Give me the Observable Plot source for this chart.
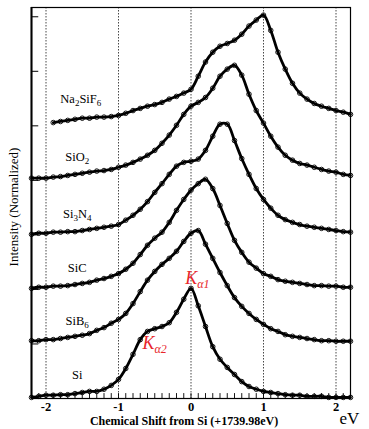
<!DOCTYPE html>
<html><head><meta charset="utf-8">
<script src="https://cdn.jsdelivr.net/npm/d3@7"></script>
<script src="https://cdn.jsdelivr.net/npm/@observablehq/plot@0.6"></script>
<style>
html,body{margin:0;padding:0;background:#fff;}
#chart svg{display:block;}
</style>
</head><body><div id="chart"></div>
<script>
// Chemical shift (eV) sample positions
const energy = [-2.2,-2.1,-2.0,-1.9,-1.8,-1.7,-1.6,-1.5,-1.4,-1.3,-1.2,-1.1,-1.0,-0.9,-0.8,-0.7,-0.6,-0.5,-0.4,-0.3,-0.2,-0.1,0,0.1,0.2,0.3,0.4,0.5,0.6,0.7,0.8,0.9,1.0,1.1,1.2,1.3,1.4,1.5,1.6,1.7,1.8,1.9,2.0,2.1,2.2];

// Stacked normalized intensities
const si = [0.02,0.04,0.06,0.06,0.07,0.07,0.09,0.11,0.13,0.13, 0.17,0.24,0.35,0.55,0.81,1.08,1.23,1.28,1.32,1.39, 1.58,1.82,2.02,1.70,1.32,0.95,0.72,0.57,0.44,0.31, 0.22,0.17,0.13,0.11,0.09,0.07,0.06,0.06,0.04,0.04, 0.04,0.02,0.02,0.02,0.02];
const sib6 = [1.06,1.06,1.08,1.08,1.10,1.12,1.14,1.16,1.19,1.25, 1.30,1.38,1.45,1.56,1.74,1.96,2.17,2.33,2.46,2.57, 2.70,2.88,3.03,3.08,2.83,2.57,2.31,2.07,1.85,1.69, 1.56,1.45,1.36,1.28,1.23,1.17,1.14,1.12,1.10,1.08, 1.06,1.06,1.05,1.05,1.05];
const sic = [2.02,2.04,2.04,2.06,2.06,2.07,2.09,2.11,2.13,2.17, 2.20,2.24,2.29,2.37,2.48,2.64,2.81,2.94,3.05,3.23, 3.45,3.65,3.82,3.94,4.02,3.85,3.54,3.21,2.90,2.68, 2.50,2.39,2.29,2.24,2.18,2.15,2.13,2.11,2.09,2.07, 2.07,2.06,2.06,2.04,2.04];
const si3n4 = [3.01,3.03,3.03,3.05,3.05,3.06,3.06,3.08,3.10,3.12, 3.14,3.16,3.19,3.27,3.36,3.47,3.61,3.78,3.94,4.11, 4.26,4.33,4.35,4.39,4.55,4.81,5.03,5.03,4.73,4.40, 4.11,3.85,3.65,3.49,3.36,3.28,3.23,3.19,3.16,3.14, 3.12,3.10,3.08,3.06,3.05];
const sio2 = [4.04,4.04,4.04,4.06,4.07,4.09,4.11,4.13,4.15,4.17, 4.18,4.20,4.24,4.28,4.33,4.39,4.46,4.55,4.68,4.83, 5.01,5.21,5.36,5.43,5.52,5.69,5.91,6.04,6.11,5.93, 5.58,5.28,5.05,4.81,4.61,4.46,4.37,4.31,4.28,4.24, 4.20,4.17,4.15,4.11,4.09];
// Na2SiF6 starts at -1.9 eV
const na2sif6 = [5.06,5.08,5.10,5.12,5.14,5.14,5.16,5.16,5.17,5.19, 5.23,5.28,5.32,5.36,5.39,5.43,5.49,5.54,5.60,5.67, 5.91,6.17,6.35,6.46,6.51,6.57,6.68,6.83,6.94,7.03, 6.75,6.35,6.04,5.78,5.60,5.49,5.41,5.36,5.32,5.28, 5.25,5.21];

const seriesNames = ["Si","SiB6","SiC","Si3N4","SiO2","Na2SiF6"];
const seriesStart = [-2.2,-2.2,-2.2,-2.2,-2.2,-1.9];
const seriesValues = [si, sib6, sic, si3n4, sio2, na2sif6];

// Label anchors (data coordinates)
const labelX = [-1.57,-1.57,-1.57,-1.57,-1.57,-1.52];
const labelY = [0.44,1.43,2.39,3.38,4.42,5.49];

const peakLabels = ["K\u03b11","K\u03b12"];
const peakX = [-0.08,-0.67];
const peakY = [2.20,1.01];

const xTicks = [-2,-1,0,1,2];
const yTicks = [1,2,3,4,5,6,7];
const xLabel = "Chemical Shift from Si (+1739.98eV)";
const yLabel = "Intensity (Normalized)";
const unitLabel = "eV";

const rows = [];
seriesNames.forEach((name, k) => {
  const i0 = energy.indexOf(seriesStart[k]);
  seriesValues[k].forEach((v, i) => rows.push({x: energy[i0 + i], y: v, s: name}));
});
const labels = seriesNames.map((n, i) => ({name: n, x: labelX[i], y: labelY[i]}));
const peaks = peakLabels.map((n, i) => ({name: n, x: peakX[i], y: peakY[i]}));

const minor = d3.range(-22, 23).map(d => d / 10);
const font = "Liberation Serif";

const chart = Plot.plot({
  width: 369,
  height: 429,
  marginLeft: 31,
  marginRight: 19,
  marginTop: 7,
  marginBottom: 31,
  style: {fontFamily: font, fontSize: "12px", background: "#fff", color: "#000"},
  x: {domain: [-2.2, 2.2]},
  y: {domain: [0, 7.17], axis: null},
  marks: [
    Plot.ruleX(xTicks, {x: d => d, stroke: "#333", strokeWidth: 0.9, strokeDasharray: "1.5,1.5"}),
    Plot.ruleX(minor, {x: d => d, y1: 0, y2: 0.09, stroke: "#000", strokeWidth: 0.9}),
    Plot.ruleY(yTicks, {y: d => d, x1: -2.2, x2: -2.1, stroke: "#000", strokeWidth: 1}),
    Plot.frame({stroke: "#000", strokeWidth: 1.2}),
    Plot.ruleX([-2.2], {x: d => d, stroke: "#000", strokeWidth: 2}),
    Plot.line(rows, {x: "x", y: "y", z: "s", curve: "catmull-rom", stroke: "#000", strokeWidth: 2.8}),
    Plot.dot(rows, {x: "x", y: "y", r: 2.3, stroke: "#000", strokeWidth: 0.9, fill: "none"}),
    Plot.text(labels, {x: "x", y: "y", text: "name", fontSize: 12.5, fill: "#000"}),
    Plot.text(peaks, {x: "x", y: "y", text: "name", fontSize: 18, fontStyle: "italic", fill: "#e8262a", textAnchor: "start"}),
    Plot.axisX({ticks: xTicks, tickSize: 0, tickPadding: 4, tickFormat: d => String(d), fontWeight: "bold", fontSize: 12.5, label: null}),
    Plot.text([xLabel], {frameAnchor: "bottom", dx: -7, dy: 23, lineAnchor: "middle", textAnchor: "middle", fontWeight: "bold", fontSize: 12}),
    Plot.text([unitLabel], {frameAnchor: "bottom-right", dx: -11, dy: 20, lineAnchor: "middle", textAnchor: "start", fontSize: 17}),
    Plot.text([yLabel], {frameAnchor: "left", rotate: -90, dx: -18, dy: 4, lineAnchor: "middle", textAnchor: "middle", fontSize: 13})
  ]
});

const svg = d3.select(chart);
svg.attr("font-family", font).style("font-family", font);
svg.selectAll("text").attr("font-family", font).style("font-family", font);

// Subscripts for chemical formulas and K-alpha labels
svg.selectAll("text").each(function() {
  const t = d3.select(this);
  const s = this.textContent;
  if (seriesNames.includes(s)) {
    t.text(null);
    let down = false;
    s.match(/\d+|\D+/g).forEach(p => {
      const ts = t.append("tspan").text(p);
      if (/\d/.test(p)) { ts.attr("dy", "3").attr("font-size", "9"); down = true; }
      else if (down) { ts.attr("dy", "-3"); down = false; }
    });
  } else if (peakLabels.includes(s)) {
    t.text(null);
    t.append("tspan").text(s.slice(0, 1));
    t.append("tspan").attr("dy", "4").attr("font-size", "12").text(s.slice(1));
  }
});
svg.selectAll("tspan").style("font-family", font);

document.getElementById("chart").appendChild(chart);
</script>
</body></html>
